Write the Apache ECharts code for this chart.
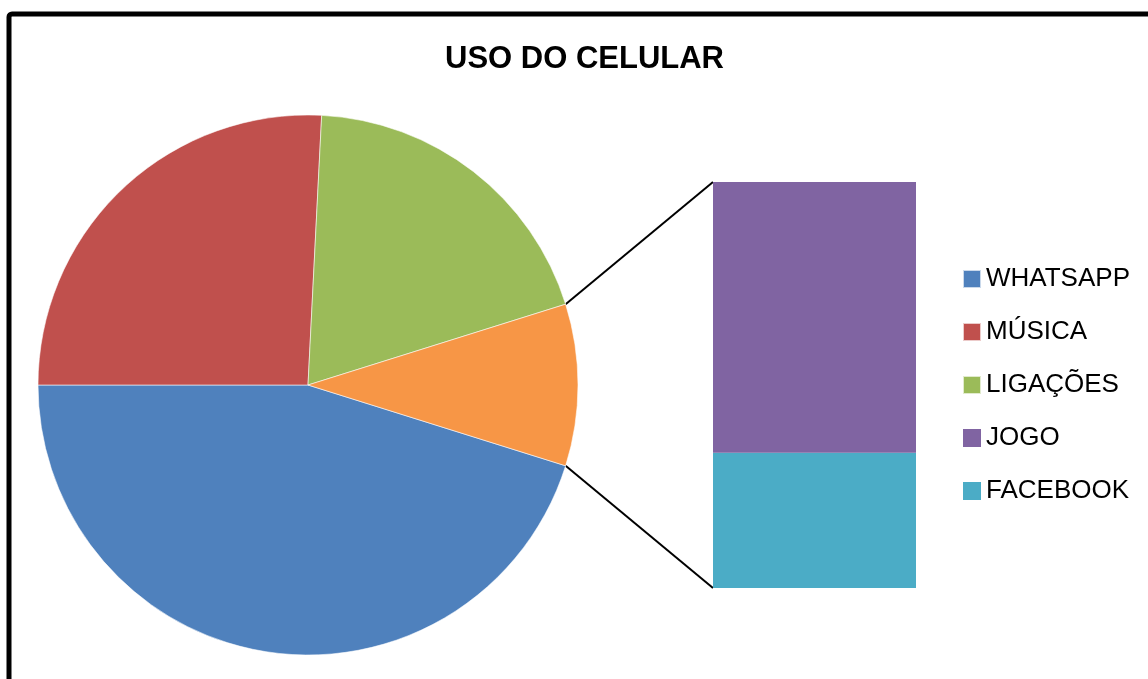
<!DOCTYPE html>
<html>
<head>
<meta charset="utf-8">
<script src="https://cdn.jsdelivr.net/npm/echarts@6/dist/echarts.min.js"></script>
<style>
  html, body { margin: 0; padding: 0; background: #fff; }
  #chart { width: 1148px; height: 679px; }
</style>
</head>
<body>
<div id="chart"></div>
<script>
// pie slices
const pieNames = ['WHATSAPP', 'MÚSICA', 'LIGAÇÕES'];
const pieValues = [14, 8, 6];
// slices grouped into the bar
const barNames = ['JOGO', 'FACEBOOK'];
const barValues = [2, 1];
const otherName = 'OUTROS';

const pieColors = ['#4F81BD', '#C0504D', '#9BBB59'];
const otherColor = '#F79646';
const barColors = ['#8064A2', '#4BACC6'];

const fontFamily = "'Liberation Sans', Arial, sans-serif";

const chart = echarts.init(document.getElementById('chart'));

const otherValue = barValues.reduce((a, b) => a + b, 0);
const total = pieValues.reduce((a, b) => a + b, 0) + otherValue;
const halfOther = 360 * otherValue / total / 2;

const pieCenter = [308, 385];
const pieRadius = 270;
const barBox = { left: 713, top: 182, width: 203, height: 406 };

const pieData = pieNames.map((name, i) => ({
  name: name,
  value: pieValues[i],
  itemStyle: { color: pieColors[i] }
}));
pieData.push({ name: otherName, value: otherValue, itemStyle: { color: otherColor } });

// connector lines from the "other" slice edges to the bar corners
const rad = halfOther * Math.PI / 180;
const edgeX = pieCenter[0] + pieRadius * Math.cos(rad);
const edgeTopY = pieCenter[1] - pieRadius * Math.sin(rad);
const edgeBotY = pieCenter[1] + pieRadius * Math.sin(rad);

// bar series stacked bottom-up: FACEBOOK then JOGO
const barSeries = barNames.map((name, i) => ({
  name: name,
  type: 'bar',
  stack: 'outros',
  barWidth: '100%',
  data: [barValues[i]],
  itemStyle: { color: barColors[i] },
  z: 2
})).reverse();

const option = {
  animation: false,
  title: {
    text: 'USO DO CELULAR',
    left: 445,
    top: 44,
    padding: 0,
    textStyle: { fontFamily: fontFamily, fontWeight: 'bold', fontSize: 31, color: '#000' }
  },
  legend: {
    orient: 'vertical',
    left: 962,
    top: 264,
    padding: 0,
    icon: 'rect',
    itemWidth: 18,
    itemHeight: 18,
    itemGap: 23,
    data: pieNames.concat(barNames),
    textStyle: { fontFamily: fontFamily, fontSize: 26, lineHeight: 30, color: '#000' }
  },
  grid: {
    left: barBox.left,
    top: barBox.top,
    width: barBox.width,
    height: barBox.height,
    containLabel: false
  },
  xAxis: { type: 'category', data: [otherName], show: false },
  yAxis: { type: 'value', min: 0, max: otherValue, show: false },
  series: [
    {
      name: 'USO DO CELULAR',
      type: 'pie',
      center: pieCenter,
      radius: pieRadius,
      startAngle: -halfOther,
      clockwise: true,
      label: { show: false },
      labelLine: { show: false },
      itemStyle: { borderColor: 'rgba(255,255,255,0.7)', borderWidth: 0.8 },
      data: pieData
    }
  ].concat(barSeries),
  graphic: [
    {
      type: 'rect',
      shape: { x: 9, y: 14, width: 1300, height: 800, r: 3 },
      style: { fill: 'none', stroke: '#000', lineWidth: 5 }
    },
    {
      type: 'line',
      shape: { x1: edgeX, y1: edgeTopY, x2: barBox.left, y2: barBox.top },
      style: { stroke: '#000', lineWidth: 2 }
    },
    {
      type: 'line',
      shape: { x1: edgeX, y1: edgeBotY, x2: barBox.left, y2: barBox.top + barBox.height },
      style: { stroke: '#000', lineWidth: 2 }
    }
  ]
};

chart.setOption(option);
</script>
</body>
</html>
